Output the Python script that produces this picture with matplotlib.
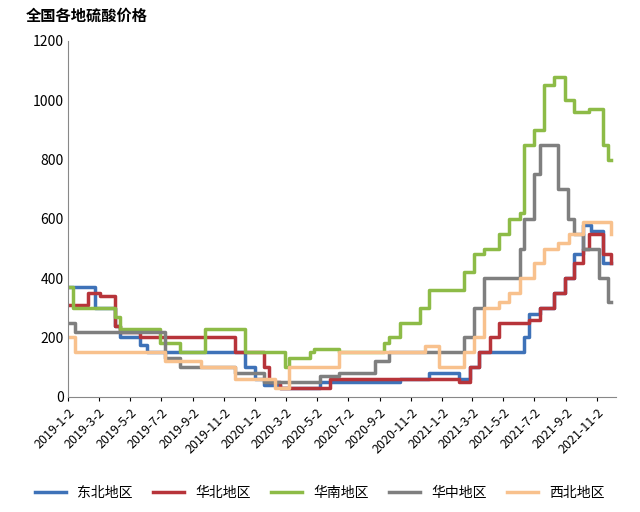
import numpy as np
import pandas as pd
import matplotlib.pyplot as plt

plt.rcParams['font.family'] = ['Noto Sans CJK SC', 'DejaVu Sans']

start = pd.Timestamp('2019-01-02')

# step breakpoints: months since 2019-01-02, price
ne_m = [0, 1.73, 3.0, 3.33, 4.6, 5.06, 11.35, 12.0, 12.6, 13.6, 14.2, 16.2, 21.3, 23.2, 25.1, 25.8, 26.4, 29.3, 29.6, 30.3, 31.2, 31.9, 32.5, 33.1, 33.6, 34.4, 34.9]
ne_v = [370, 300, 240, 200, 175, 150, 100, 60, 40, 30, 30, 50, 60, 80, 60, 100, 150, 200, 280, 300, 350, 400, 480, 580, 560, 450, 450]
nc_m = [0, 1.28, 2.05, 3.0, 3.33, 4.6, 5.9, 10.7, 11.35, 12.6, 12.9, 13.6, 16.8, 23.2, 25.1, 25.8, 26.4, 27.1, 27.7, 29.3, 29.6, 30.3, 31.2, 31.9, 32.5, 33.1, 33.5, 34.4, 34.9]
nc_v = [310, 350, 340, 240, 220, 200, 200, 150, 150, 100, 50, 30, 60, 60, 50, 100, 150, 200, 250, 250, 260, 300, 350, 400, 450, 500, 550, 480, 450]
sc_m = [0, 0.26, 3.0, 3.33, 5.9, 7.2, 8.8, 11.35, 13.9, 14.2, 14.4, 15.5, 15.8, 17.4, 20.3, 20.6, 21.3, 22.6, 23.2, 25.4, 26.1, 26.7, 27.7, 28.3, 29.0, 29.3, 29.9, 30.6, 31.2, 31.9, 32.5, 33.5, 34.4, 34.7, 34.9]
sc_v = [370, 300, 270, 230, 180, 150, 230, 150, 100, 130, 130, 150, 160, 150, 180, 200, 250, 300, 360, 420, 480, 500, 550, 600, 620, 850, 900, 1050, 1080, 1000, 960, 970, 850, 800, 800]
cc_m = [0, 0.45, 6.2, 7.2, 10.7, 12.6, 16.2, 17.4, 19.7, 20.6, 25.4, 26.1, 26.7, 29.0, 29.3, 29.9, 30.3, 31.5, 32.1, 32.5, 33.1, 34.1, 34.7, 34.9]
cc_v = [250, 220, 130, 100, 80, 50, 70, 80, 120, 150, 200, 300, 400, 500, 600, 750, 850, 700, 600, 550, 500, 400, 320, 320]
nw_m = [0, 0.45, 6.2, 8.5, 10.7, 13.3, 14.2, 17.4, 22.9, 23.8, 25.4, 26.1, 26.7, 27.7, 28.3, 29.0, 29.9, 30.6, 31.5, 32.2, 33.1, 34.9]
nw_v = [200, 150, 120, 100, 60, 30, 100, 150, 170, 100, 150, 200, 300, 320, 350, 400, 450, 500, 520, 550, 590, 550]

tick_labels = ['2019-1-2', '2019-3-2', '2019-5-2', '2019-7-2', '2019-9-2', '2019-11-2',
               '2020-1-2', '2020-3-2', '2020-5-2', '2020-7-2', '2020-9-2', '2020-11-2',
               '2021-1-2', '2021-3-2', '2021-5-2', '2021-7-2', '2021-9-2', '2021-11-2']

names = ['东北地区', '华北地区', '华南地区', '华中地区', '西北地区']
colors = ['#3e72b8', '#b7343a', '#8dbb47', '#7f7f7f', '#f8c18d']
series = [(ne_m, ne_v), (nc_m, nc_v), (sc_m, sc_v), (cc_m, cc_v), (nw_m, nw_v)]

fig, ax = plt.subplots(figsize=(6.4, 5.12), dpi=100)
fig.subplots_adjust(left=0.107, right=0.962, top=0.92, bottom=0.225)

for (m, v), name, c in zip(series, names, colors):
    dates = start + pd.to_timedelta(np.array(m) * 30.44, unit='D')
    ax.plot(dates, v, drawstyle='steps-post', color=c, lw=2.5, label=name)

ticks = pd.to_datetime(tick_labels, format='%Y-%m-%d')
ax.set_xticks(ticks)
ax.set_xticklabels(tick_labels, rotation=45, ha='right', rotation_mode='anchor', fontsize=9)
ax.set_xlim(start, pd.Timestamp('2021-12-08'))
ax.set_ylim(0, 1200)
ax.set_yticks(range(0, 1201, 200))
ax.tick_params(axis='y', labelsize=10, length=0)
ax.tick_params(axis='x', length=3)
for s in ['top', 'right']:
    ax.spines[s].set_visible(False)
ax.spines['left'].set_color('#888888')
ax.spines['bottom'].set_color('#888888')

fig.text(0.04, 0.985, '全国各地硫酸价格', fontsize=11, va='top', fontweight='bold')
fig.legend(loc='lower center', ncol=5, frameon=False, fontsize=10,
           bbox_to_anchor=(0.5, 0.0), handlelength=2.2, columnspacing=1.5)

fig.savefig('out.png')
